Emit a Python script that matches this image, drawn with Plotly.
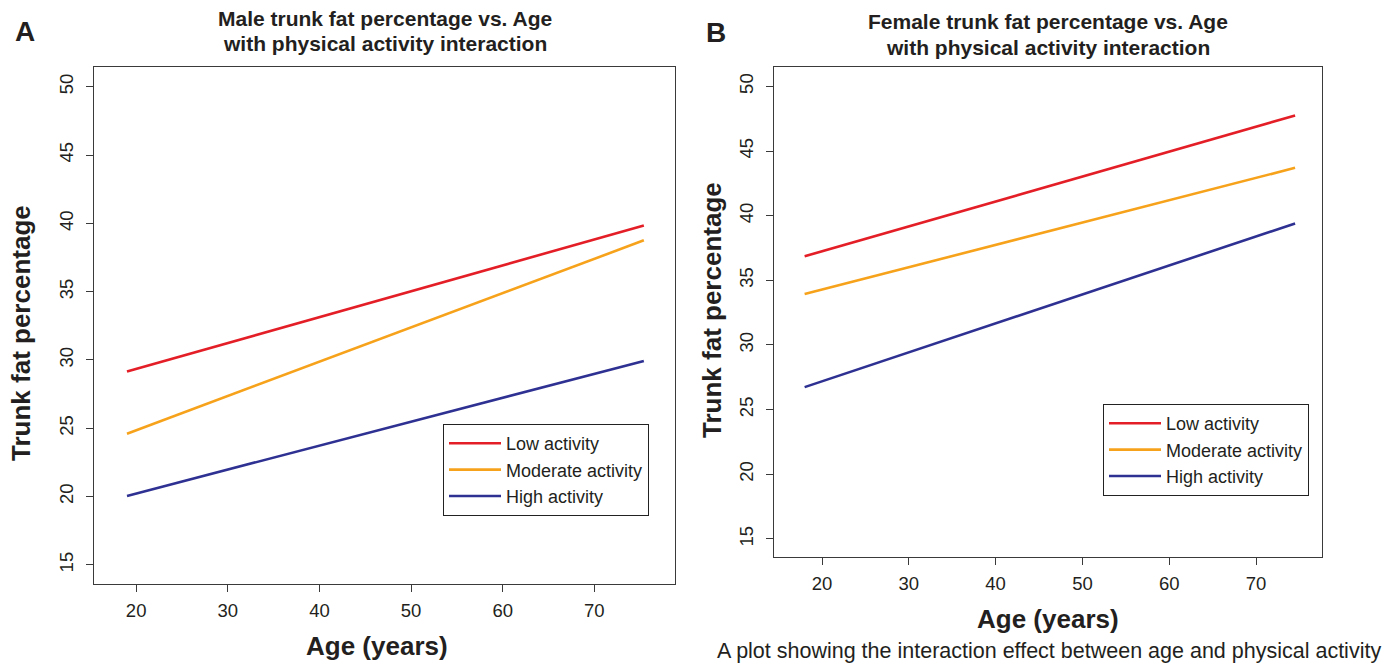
import plotly.graph_objects as go

# ---- data ----
series_names = ["Low activity", "Moderate activity", "High activity"]
series_colors = ["#E41E26", "#F7A21B", "#2E3192"]

male_age = [19, 75.4]
male_low = [29.15, 39.85]
male_moderate = [24.6, 38.76]
male_high = [20.05, 29.93]

female_age = [18, 74.5]
female_low = [36.86, 47.75]
female_moderate = [33.94, 43.7]
female_high = [26.74, 39.4]

x_ticks = [20, 30, 40, 50, 60, 70]
y_ticks = [15, 20, 25, 30, 35, 40, 45, 50]

W, H = 1396, 666
FONT = "Liberation Sans, Arial, Helvetica, sans-serif"
TXT = "#231F20"

fig = go.Figure()

male_vals = [male_low, male_moderate, male_high]
female_vals = [female_low, female_moderate, female_high]
for name, col, ys in zip(series_names, series_colors, male_vals):
    fig.add_trace(go.Scatter(x=male_age, y=ys, mode="lines", name=name,
                             line=dict(color=col, width=2.6),
                             xaxis="x", yaxis="y", legend="legend"))
for name, col, ys in zip(series_names, series_colors, female_vals):
    fig.add_trace(go.Scatter(x=female_age, y=ys, mode="lines", name=name,
                             line=dict(color=col, width=2.6),
                             xaxis="x2", yaxis="y2", legend="legend2"))

def px_x(v):
    return v / W

def px_y(v):
    return 1 - v / H

axis_common = dict(
    showline=True, mirror=True, linecolor="#3a3a3a", linewidth=1.2,
    ticks="outside", ticklen=7, tickcolor="#3a3a3a", tickwidth=1,
    showgrid=False, zeroline=False,
    tickfont=dict(family=FONT, size=18.5, color=TXT),
)

legend_common = dict(xanchor="left", yanchor="top",
                     bordercolor="#222", borderwidth=1, bgcolor="white",
                     font=dict(family=FONT, size=18, color=TXT),
                     tracegroupgap=0, itemwidth=52)

fig.update_layout(
    width=W, height=H,
    margin=dict(l=0, r=0, t=0, b=0),
    plot_bgcolor="white", paper_bgcolor="white",
    font=dict(family=FONT, color=TXT),
    xaxis=dict(domain=[px_x(94), px_x(675)], range=[15.4, 78.8],
               tickvals=x_ticks, anchor="y", ticklabelstandoff=3, **axis_common),
    yaxis=dict(domain=[px_y(584), px_y(67)], range=[13.6, 51.45],
               tickvals=y_ticks, tickangle=-90, anchor="x",
               ticklabelstandoff=6, **axis_common),
    xaxis2=dict(domain=[px_x(774), px_x(1322)], range=[14.47, 77.6],
                tickvals=x_ticks, anchor="y2", ticklabelstandoff=3, **axis_common),
    yaxis2=dict(domain=[px_y(557), px_y(67)], range=[13.6, 51.5],
                tickvals=y_ticks, tickangle=-90, anchor="x2",
                ticklabelstandoff=6, **axis_common),
    legend=dict(x=px_x(443), y=px_y(424), **legend_common),
    legend2=dict(x=px_x(1103), y=px_y(404), **legend_common),
    showlegend=True,
)

ann = []
def add_text(text, x, y, size, bold=False, angle=0, xanchor="center"):
    ann.append(dict(text=f"<b>{text}</b>" if bold else text,
                    x=px_x(x), y=px_y(y), xref="paper", yref="paper",
                    showarrow=False, xanchor=xanchor, yanchor="middle",
                    textangle=angle,
                    font=dict(family=FONT, size=size, color=TXT)))

add_text("A", 25, 31, 28, bold=True)
add_text("B", 716, 32, 28, bold=True)
add_text("Male trunk fat percentage vs. Age", 385, 19, 21, bold=True)
add_text("with physical activity interaction", 385, 44, 21, bold=True)
add_text("Female trunk fat percentage vs. Age", 1048, 21, 21, bold=True)
add_text("with physical activity interaction", 1048, 47, 21, bold=True)
add_text("Trunk fat percentage", 21, 333, 26, bold=True, angle=-90)
add_text("Trunk fat percentage", 712, 310, 26, bold=True, angle=-90)
add_text("Age (years)", 377, 646, 26, bold=True)
add_text("Age (years)", 1048, 619, 26, bold=True)
add_text("A plot showing the interaction effect between age and physical activity",
         1049, 651, 21.5)

fig.update_layout(annotations=ann)

fig.write_html("out.html",
               config={"displayModeBar": False},
               post_script="document.body.style.margin='0';document.body.style.padding='0';")
